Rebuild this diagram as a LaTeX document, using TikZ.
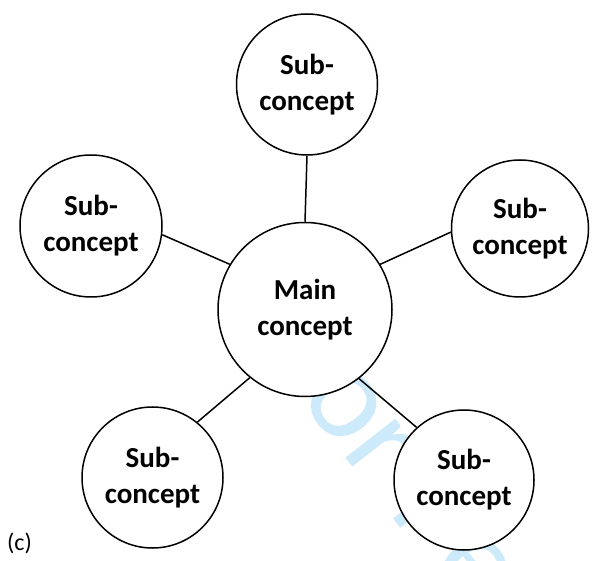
\documentclass[tikz,border=0pt]{standalone}
\usepackage{fontspec}
\setmainfont{Carlito}
\definecolor{wmblue}{RGB}{205,234,250}
\begin{document}
\begin{tikzpicture}[x=1pt,y=1pt,
  concept/.style={circle, draw, line width=1.5pt, fill=white, inner sep=0pt,
    align=center, font=\bfseries\fontsize{29}{36}\selectfont},
  link/.style={line width=1.5pt}]
\useasboundingbox (0,0) rectangle (597,560);
% faint diagonal watermark behind the diagram
\begin{scope}
  \clip (0,0) rectangle (597,560);
  \node[anchor=base west, rotate=-52, inner sep=0pt, text=wmblue,
        font=\fontsize{133}{133}\selectfont] (wm) at (261,210.6) {For Peer Review Only};
\end{scope}
% concept circles
\node[concept, minimum size=174pt] (main) at (305,250.5) {Main\\concept};
\node[concept, minimum size=141pt] (top)  at (307,475.5) {Sub-\\concept};
\node[concept, minimum size=142pt] (left) at (91,334)    {Sub-\\concept};
\node[concept, minimum size=137pt] (right) at (520,331.5) {Sub-\\concept};
\node[concept, minimum size=141pt] (bl)   at (152.5,82.5) {Sub-\\concept};
\node[concept, minimum size=140pt] (br)   at (464,80)    {Sub-\\concept};
% spokes
\draw[link] (main.90)  -- (top.270);
\draw[link] (main.149) -- (left.-7);
\draw[link] (main.31)  -- (right.183);
\draw[link] (main.231) -- (bl.51);
\draw[link] (main.-52) -- (br.132);
% panel label
\node[anchor=base west, inner sep=0pt, font=\fontsize{24}{28}\selectfont] (lbl) at (7,10) {(c)};
\end{tikzpicture}
\end{document}
